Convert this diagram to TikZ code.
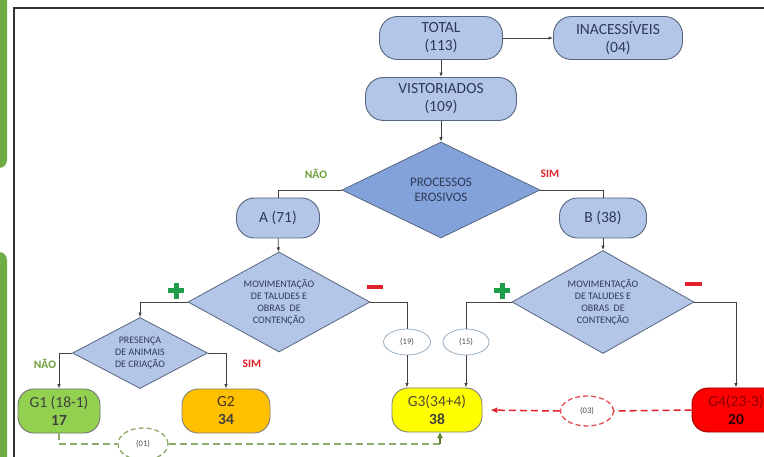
\documentclass[tikz,border=0pt]{standalone}
\usepackage{fontspec}
\setmainfont{Carlito}
\usetikzlibrary{shapes.geometric,arrows.meta}

\definecolor{boxblue}{HTML}{B4C6E7}
\definecolor{procblue}{HTML}{84A2DA}
\definecolor{boxedge}{HTML}{56657F}
\definecolor{navytext}{HTML}{2E3A59}
\definecolor{ovaledge}{HTML}{9AAFC2}
\definecolor{naogreen}{HTML}{6E9F3A}
\definecolor{simred}{HTML}{E0202A}
\definecolor{plusgreen}{HTML}{1E9E4A}
\definecolor{barkgreen}{HTML}{6FAC46}
\definecolor{gonefill}{HTML}{92D050}
\definecolor{gtwofill}{HTML}{FFC000}
\definecolor{gthreefill}{HTML}{FFFF00}
\definecolor{gfourfill}{HTML}{FF0000}
\definecolor{dashgreen}{HTML}{8CAA68}

\begin{document}
\begin{tikzpicture}[x=1pt,y=-1pt,
  box/.style={draw=boxedge, fill=boxblue, line width=0.9pt, rounded corners=18pt,
    align=center, minimum height=43pt, inner sep=1pt, text=navytext,
    font=\fontsize{15.5}{18}\selectfont},
  group/.style={box, text=black!75, minimum height=44pt, rounded corners=16pt},
  decision/.style={diamond, draw=boxedge, fill=boxblue, line width=0.8pt,
    inner sep=0pt, align=center, text=navytext},
  link/.style={draw=black!75, line width=0.8pt},
  tip/.style={-{Latex[length=4.5pt,width=3.5pt]}},
  tag/.style={ellipse, draw=ovaledge, fill=white, line width=0.8pt, inner sep=0pt,
    font=\fontsize{8.5}{9}\selectfont, text=black!70},
  yes/.style={font=\bfseries\fontsize{11.5}{12}\selectfont, text=simred},
  no/.style={font=\bfseries\fontsize{11.5}{12}\selectfont, text=naogreen}]

  \useasboundingbox (0,0) rectangle (764,457);
  \clip (0,0) rectangle (764,457);

  % page around the chart
  \fill[barkgreen, rounded corners=8pt] (-30,-30) rectangle (7,168);
  \fill[barkgreen, rounded corners=8pt] (-30,252) rectangle (7,500);
  \draw[line width=1.6pt, black!80] (14,8) rectangle (800,500);

  % top
  \node[box, minimum width=123pt] (total) at (441,38) {TOTAL\\(113)};
  \node[box, minimum width=129pt] (inac) at (618,38) {INACESSÍVEIS\\(04)};
  \node[box, minimum width=151pt] (vist) at (441,99) {VISTORIADOS\\(109)};
  \node[decision, fill=procblue, aspect=2, minimum width=198pt, minimum height=96pt,
    font=\fontsize{13}{15.5}\selectfont] (proc) at (441,190) {PROCESSOS\\EROSIVOS};
  \node[no] (naoA) at (316,174) {NÃO};
  \node[yes] (simB) at (550,174) {SIM};

  % A and B
  \node[box, minimum width=83pt, minimum height=40pt] (ramoA) at (278,218) {A (71)};
  \node[box, minimum width=87pt, minimum height=40pt] (ramoB) at (603,218) {B (38)};
  \node[decision, aspect=1.8, minimum width=182pt, minimum height=100pt,
    font=\fontsize{10}{12}\selectfont] (movA) at (279,302)
    {MOVIMENTAÇÃO\\DE TALUDES E\\OBRAS\ \ DE\\CONTENÇÃO};
  \node[decision, aspect=1.8, minimum width=182pt, minimum height=103pt,
    font=\fontsize{10}{12}\selectfont] (movB) at (603,302)
    {MOVIMENTAÇÃO\\DE TALUDES E\\OBRAS\ \ DE\\CONTENÇÃO};
  \node[decision, aspect=1.9, minimum width=135pt, minimum height=71pt,
    font=\fontsize{10}{12}\selectfont] (pres) at (140,353)
    {PRESENÇA\\DE ANIMAIS\\DE CRIAÇÃO};
  \node[no] (naoG1) at (45,364) {NÃO};
  \node[yes] (simG2) at (252,364) {SIM};

  % + and - marks
  \draw[plusgreen, line width=5pt] (176,283) -- (176,299) (168,291) -- (184,291);
  \draw[plusgreen, line width=5pt] (502,283) -- (502,299) (494,291) -- (510,291);
  \draw[simred, line width=4pt] (367,287) -- (383,287);
  \draw[simred, line width=4pt] (685,284) -- (702,284);

  % groups
  \node[group, fill=gonefill, draw=black!55, minimum width=82pt] (g1) at (59,411)
    {G1 (18-1)\\\textbf{17}};
  \node[group, fill=gtwofill, draw=black!50, minimum width=88pt] (g2) at (226,411)
    {\textcolor{black!60!brown}{G2}\\\textbf{34}};
  \node[group, fill=gthreefill, draw=black!50, minimum width=90pt] (g3) at (437,410)
    {\textcolor{black!55!olive}{G3(34+4)}\\\textbf{38}};
  \node[group, fill=gfourfill, draw=red!60!black, minimum width=88pt] (g4) at (736,410)
    {\textcolor{red!55!black}{G4(23-3)}\\\textbf{\textcolor{black!85!red}{20}}};

  \node[tag, minimum width=47pt, minimum height=26pt] (t19) at (407,342) {(19)};
  \node[tag, minimum width=46pt, minimum height=26pt] (t15) at (466,342) {(15)};
  \node[tag, draw=simred!80, dashed, dash pattern=on 5pt off 3pt, line width=1.3pt,
    minimum width=53pt, minimum height=30pt] (t03) at (587,411) {(03)};
  \node[tag, draw=dashgreen, dashed, dash pattern=on 5pt off 3pt, line width=1.3pt,
    minimum width=50pt, minimum height=32pt] (t01) at (143,444) {(01)};
  \coordinate (g3low) at (440,432);
  \coordinate (g3in) at (440,434);

  % links
  \draw[link, tip] (total) -- (inac);
  \draw[link, tip] (total) -- (vist);
  \draw[link, tip] (vist) -- (proc);
  \draw[link] (proc.west) -| (ramoA.north);
  \draw[link] (proc.east) -| (ramoB.north);
  \draw[link, tip] (ramoA) -- (movA);
  \draw[link, tip] (ramoB) -- (movB);
  \draw[link, tip] (movA.west) -| (pres.north);
  \draw[link, tip] (pres.west) -| (g1.north);
  \draw[link, tip] (pres.east) -| (g2.north);
  \draw[link] (movA.east) -| (t19.north);
  \draw[link, tip] (t19.south) -- (t19 |- g3.north);
  \draw[link] (movB.west) -| (t15.north);
  \draw[link, tip] (t15.south) -- (t15 |- g3.north);
  \draw[link, tip] (movB.east) -| (g4.north);

  % dashed returns
  \draw[simred, line width=1.5pt, dash pattern=on 7pt off 4pt] (g4.west) -- (t03.east);
  \draw[simred, line width=1.5pt, dash pattern=on 7pt off 4pt,
    -{Latex[length=7pt,width=6pt]}, shorten >=8pt] (t03.west) -- (g3.east);
  \draw[dashgreen, line width=1.5pt, dash pattern=on 7pt off 4pt] (g1.south) |- (t01.west);
  \draw[dashgreen, line width=1.5pt, dash pattern=on 7pt off 4pt] (t01.east) -| (g3in);
  \draw[naogreen!80!black, line width=1.5pt, -{Latex[length=6pt,width=6pt]}]
    (440,444) -- (g3low);
\end{tikzpicture}
\end{document}
